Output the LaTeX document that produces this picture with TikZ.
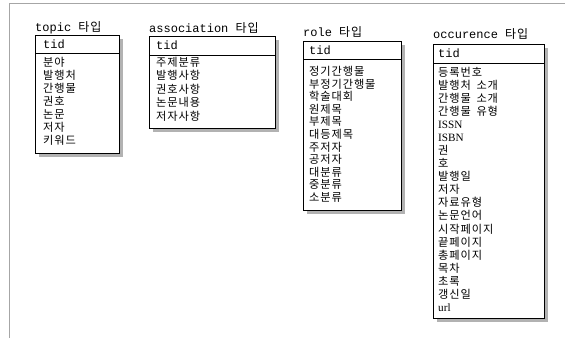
\documentclass[tikz,border=0pt]{standalone}
\usepackage{fontspec}
\setmainfont{Liberation Serif}
\setmonofont{Liberation Mono}
\newfontfamily\kr[LetterSpace=8]{Noto Sans CJK KR}
\usetikzlibrary{shadows}
\tikzset{
  tbox/.style={draw=black, line width=0.8pt, fill=white, inner sep=0pt, outer sep=0pt,
    anchor=north west,
    drop shadow={shadow xshift=4pt, shadow yshift=-4pt, fill=gray!60, opacity=1}},
  ttl/.style={inner sep=0pt, anchor=base west, font=\ttfamily\fontsize{12}{13}\selectfont},
  tidlbl/.style={inner sep=0pt, anchor=west, font=\ttfamily\fontsize{12}{13}\selectfont},
  item/.style={inner sep=0pt, anchor=base west, font=\kr\fontsize{11.2}{13}\selectfont},
  divline/.style={draw=black, line width=0.8pt},
  frameline/.style={draw=gray!70, line width=1.5pt}
}
\begin{document}
\begin{tikzpicture}[x=1pt,y=-1pt]
\useasboundingbox (0,0) rectangle (565,338);
\draw[frameline] (9.5,338) -- (9.5,3.5) -- (565,3.5);

% topic
\node[ttl] (topic-t) at (35,31) {topic {\kr 타입}};
\node[tbox, minimum width=84pt, minimum height=118pt] (topic) at (35,35) {};
\draw[divline] ([yshift=-18pt]topic.north west) -- ([yshift=-18pt]topic.north east);
\node[tidlbl] (topic-tid) at (43,44) {tid};
\foreach \t [count=\i] in {분야,발행처,간행물,권호,논문,저자,키워드}
  \node[item] (topic-\i) at (43,{66+13*(\i-1)}) {\t};

% association
\node[ttl] (assoc-t) at (149,32) {association {\kr 타입}};
\node[tbox, minimum width=126pt, minimum height=92pt] (assoc) at (149,36) {};
\draw[divline] ([yshift=-19pt]assoc.north west) -- ([yshift=-19pt]assoc.north east);
\node[tidlbl] (assoc-tid) at (156,45.5) {tid};
\foreach \t [count=\i] in {주제분류,발행사항,권호사항,논문내용,저자사항}
  \node[item] (assoc-\i) at (156,{66+13.6*(\i-1)}) {\t};

% role
\node[ttl] (role-t) at (303,36) {role {\kr 타입}};
\node[tbox, minimum width=98pt, minimum height=169pt] (role) at (303,41) {};
\draw[divline] ([yshift=-18pt]role.north west) -- ([yshift=-18pt]role.north east);
\node[tidlbl] (role-tid) at (309,50) {tid};
\foreach \t [count=\i] in {정기간행물,부정기간행물,학술대회,원제목,부제목,대등제목,주저자,공저자,대분류,중분류,소분류}
  \node[item] (role-\i) at (309,{75.4+12.6*(\i-1)}) {\t};

% occurence
\node[ttl] (occ-t) at (433,38.3) {occurence {\kr 타입}};
\node[tbox, minimum width=111pt, minimum height=274pt] (occ) at (433,44) {};
\draw[divline] ([yshift=-19pt]occ.north west) -- ([yshift=-19pt]occ.north east);
\node[tidlbl] (occ-tid) at (438,53.5) {tid};
\foreach \t [count=\i] in {등록번호,발행처\hspace{0.5em}소개,간행물\hspace{0.5em}소개,간행물\hspace{0.5em}유형,\rmfamily ISSN,\rmfamily ISBN,권,호,발행일,저자,자료유형,논문언어,시작페이지,끝페이지,총페이지,목차,초록,갱신일,\rmfamily url}
  \node[item] (occ-\i) at (438,{76.4+13.05*(\i-1)}) {\t};
\end{tikzpicture}
\end{document}
